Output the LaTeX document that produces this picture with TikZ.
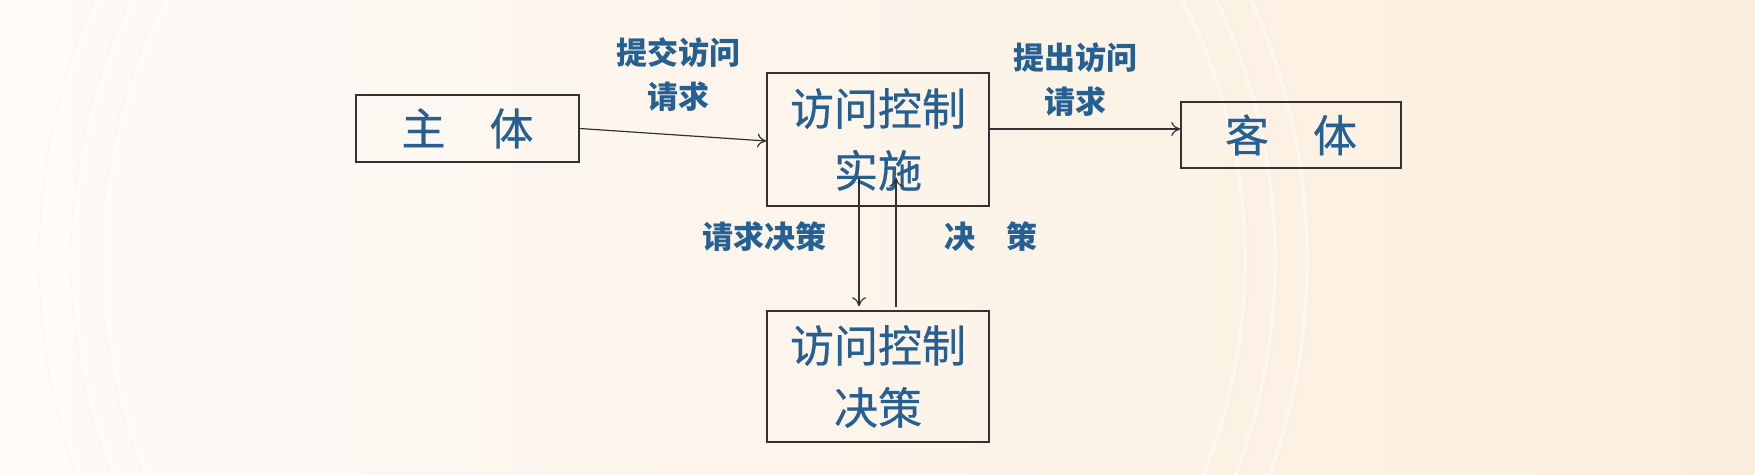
\documentclass[tikz,border=0pt]{standalone}
\usepackage{fontspec}
\newfontfamily\cjk{Noto Sans CJK SC}
\newfontfamily\cjkbox[FakeBold=0.5]{Noto Sans CJK SC}
\usetikzlibrary{arrows.meta}
\definecolor{bgL}{RGB}{253,250,248}
\definecolor{bgR}{RGB}{252,238,220}
\definecolor{txtblue}{RGB}{38,96,146}
\definecolor{linegray}{RGB}{50,50,50}
\tikzset{
  box/.style={draw=linegray, line width=0.75pt, minimum width=111pt, inner sep=0pt,
    font=\cjkbox\fontsize{22pt}{31pt}\selectfont, text=txtblue, align=center},
  lbl/.style={font=\cjk\bfseries\fontsize{15.5pt}{22pt}\selectfont, text=txtblue, align=center, inner sep=0pt},
  arr/.style={draw=linegray, line width=0.6pt, -{To[length=4.5pt,width=7pt]}},
  ring/.style={draw=white, line width=1.6pt, opacity=0.45}
}
\begin{document}
\begin{tikzpicture}[x=0.5pt,y=-0.5pt]
\useasboundingbox (0,0) rectangle (1755,475);
\shade[left color=bgL, right color=bgR] (0,0) rectangle (1755,475);
\foreach \r in {570,600,632}{
  \draw[ring] (675,260) circle (\r);
  \draw[draw=black!8, line width=0.4pt, opacity=0.3] (675,260) circle (\r+4);
}
% boxes
\node[box, minimum width=111.5pt, minimum height=33.5pt] (subj) at (467.5,128.5) {主　体};
\node[box, minimum height=66.5pt] (impl) at (878,139.5) {访问控制\\实施};
\node[box, minimum width=110pt, minimum height=33pt] (obj) at (1291,135) {客　体};
\node[box, minimum height=65.5pt] (dec) at (878,376.5) {访问控制\\决策};
% labels
\node[lbl] (l1) at (678,75) {提交访问\\请求};
\node[lbl] (l2) at (1075,80) {提出访问\\请求};
\node[lbl] (l3) at (764,237) {请求决策};
\node[lbl] (l4) at (991,237) {决　策};
% connectors
\draw[arr] (subj.east) -- ([yshift=-0.75pt]impl.west);
\coordinate (oin) at ([yshift=3pt]obj.west);
\draw[arr] (oin -| impl.east) -- (oin);
\draw[arr] ([xshift=-9.5pt,yshift=14.5pt]impl.south) -- ([xshift=-9.5pt,yshift=2pt]dec.north);
\draw[arr] ([xshift=9pt,yshift=1.5pt]dec.north) -- ([xshift=9pt,yshift=14.5pt]impl.south);
\end{tikzpicture}
\end{document}
